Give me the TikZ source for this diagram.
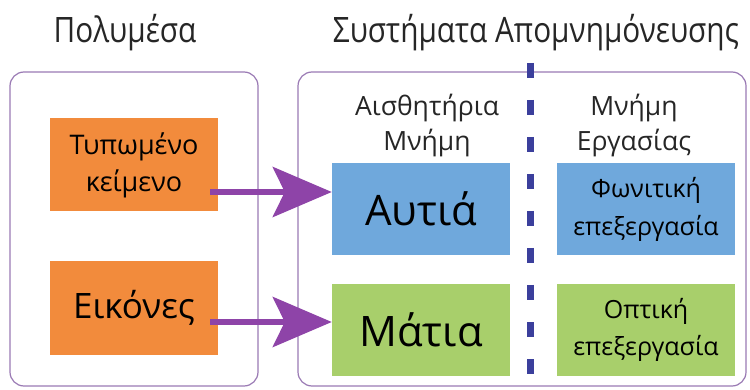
\documentclass[tikz,border=0pt]{standalone}
\usepackage{fontspec}
\setmainfont{Open Sans}
\usepackage{xcolor}
\usetikzlibrary{arrows.meta, positioning}

\definecolor{mediaorange}{HTML}{F28B3C}
\definecolor{earblue}{HTML}{6FA8DC}
\definecolor{eyegreen}{HTML}{A8CF6B}
\definecolor{flowpurple}{HTML}{8E44A8}
\definecolor{framepurple}{HTML}{9A7AB4}
\definecolor{splitnavy}{HTML}{3B3F9C}

\begin{document}
\begin{tikzpicture}[
        x=1pt, y=-1pt,
        inner sep=0pt,
        mediabox/.style={rectangle, fill=mediaorange, minimum width=168pt,
            minimum height=93pt, align=center},
        memorybox/.style={rectangle, minimum width=178pt,
            minimum height=92pt, align=center},
        container/.style={draw=framepurple, line width=1.2pt, rounded corners=14pt},
        title/.style={font=\fontsize{35}{38}\selectfont, text=black!85},
        heading/.style={font=\fontsize{26.5}{35}\selectfont, align=center, text=black!85},
        line/.style={draw=flowpurple, line width=6pt,
            -{Stealth[length=59pt, width=50pt, inset=12pt]}},
    ]
    \useasboundingbox[fill=white] (0,0) rectangle (750,390);

    % 1. Containers
    \draw[container] (10,72) rectangle (258,386);
    \draw[container] (298,72) rectangle (746,386);
    \node[title] (media_title) at (125,33) {\scalebox{0.85}[1]{Πολυμέσα}};
    \node[title] (memory_title) at (536,33) {\scalebox{0.85}[1]{Συστήματα Απομνημόνευσης}};

    % 2. Multimedia
    \node[mediabox, font=\fontsize{27}{37}\selectfont] (print) at (134,165)
        {Τυπωμένο\\κείμενο};
    \node[mediabox, font=\fontsize{35}{40}\selectfont] (images) at (134,308)
        {Εικόνες};

    % 3. Sensory memory
    \node[memorybox, fill=earblue, font=\fontsize{42}{46}\selectfont] (ears) at (421,209)
        {Αυτιά};
    \node[memorybox, fill=eyegreen, font=\fontsize{42}{46}\selectfont] (eyes) at (421,330)
        {Μάτια};
    \node[heading, above=6pt of ears, xshift=6pt] (sense_head) {Αισθητήρια\\Μνήμη};

    % 4. Working memory
    \node[memorybox, fill=earblue, font=\fontsize{25}{38}\selectfont] (phonetic) at (646,209)
        {Φωνιτική\\επεξεργασία};
    \node[memorybox, fill=eyegreen, font=\fontsize{25}{37}\selectfont] (visual) at (646,330)
        {Οπτική\\επεξεργασία};
    \node[heading, above=6pt of phonetic, xshift=-12pt] (work_head) {Μνήμη\\Εργασίας};

    % 5. Divider
    \coordinate (split_top) at (530,60);
    \coordinate (split_bottom) at (530,390);
    \draw[splitnavy, line width=7pt, dash pattern=on 15pt off 22pt, dash phase=-3pt]
        (split_top) -- (split_bottom);

    % --- Arrows ---
    \path[line] ([xshift=-8pt, yshift=-27pt]print.east)
        -- ([yshift=-27pt]print.east -| ears.west);
    \path[line] ([xshift=-8pt, yshift=-14pt]images.east)
        -- ([yshift=-14pt]images.east -| eyes.west);

\end{tikzpicture}
\end{document}
